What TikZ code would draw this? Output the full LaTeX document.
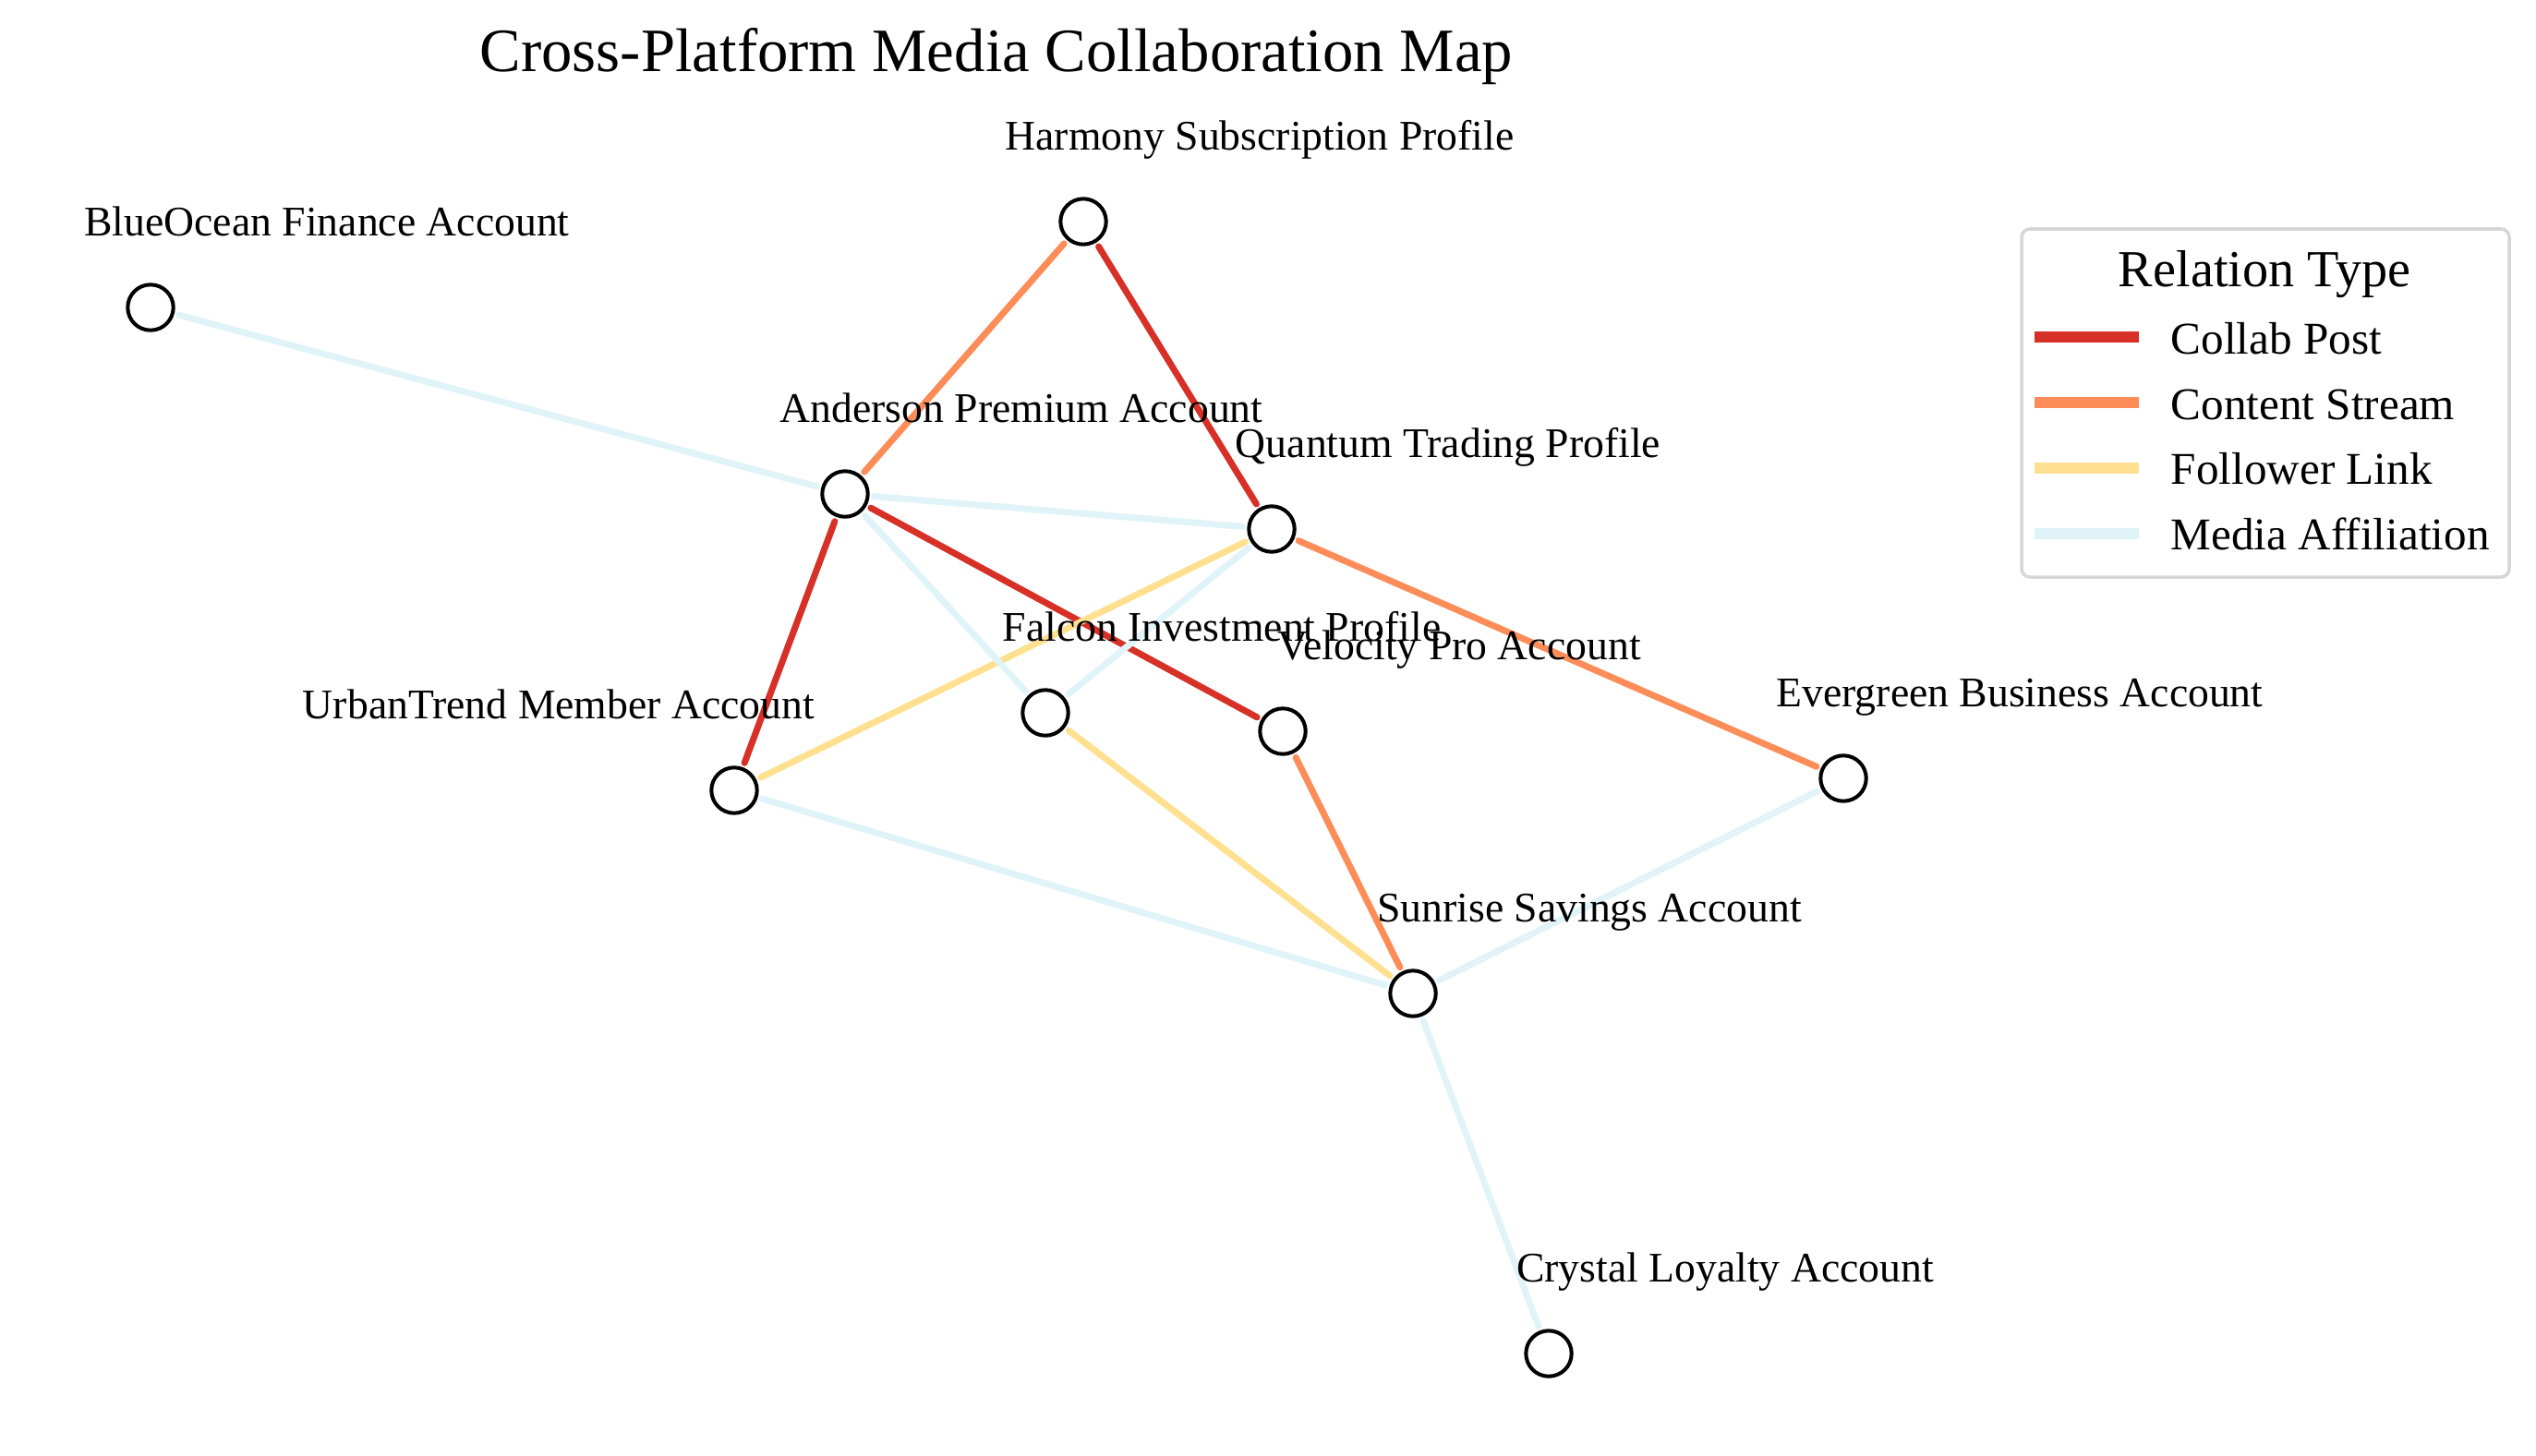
\documentclass[tikz,border=0pt]{standalone}
\usepackage{fontspec}
\setmainfont{Liberation Serif}
\usetikzlibrary{positioning}
\definecolor{collab}{HTML}{D73027}
\definecolor{stream}{HTML}{FC8D59}
\definecolor{follower}{HTML}{FEE090}
\definecolor{media}{HTML}{E0F3F8}
\definecolor{keyframe}{HTML}{D6D6D6}

\begin{document}
\begin{tikzpicture}
    [
      acct/.style = {circle, draw=black, line width=1.15pt, fill=white, minimum size=0.494cm, inner sep=0pt, outer sep=2pt},
      lbl/.style = {anchor=base, inner sep=0pt, font=\fontsize{13}{15}\selectfont},
      rel/.style = {line width=2pt, line cap=round},
      swatch/.style = {line width=3.56pt},
      keytext/.style = {anchor=base west, inner sep=0pt, font=\fontsize{14}{16}\selectfont},
    ]

    \useasboundingbox (0,0) rectangle (27.46,-15.76);

    \node[anchor=base, inner sep=0pt, font=\fontsize{19}{22}\selectfont] (title) at (10.79,-0.77) {Cross-Platform Media Collaboration Map};

    \node[acct] (h) at (11.73,-2.40) {};
    \node[acct] (b) at (1.63,-3.33) {};
    \node[acct] (a) at (9.15,-5.35) {};
    \node[acct] (q) at (13.77,-5.73) {};
    \node[acct] (f) at (11.32,-7.72) {};
    \node[acct] (v) at (13.89,-7.92) {};
    \node[acct] (u) at (7.95,-8.56) {};
    \node[acct] (e) at (19.96,-8.43) {};
    \node[acct] (s) at (15.30,-10.76) {};
    \node[acct] (c) at (16.77,-14.66) {};

    \draw[rel, collab] (h) -- (q);
    \draw[rel, collab] (a) -- (v);
    \draw[rel, collab] (a) -- (u);

    \draw[rel, stream] (h) -- (a);
    \draw[rel, stream] (q) -- (e);
    \draw[rel, stream] (v) -- (s);

    \draw[rel, follower] (q) -- (u);
    \draw[rel, follower] (f) -- (s);

    \draw[rel, media] (b) -- (a);
    \draw[rel, media] (a) -- (q);
    \draw[rel, media] (a) -- (f);
    \draw[rel, media] (q) -- (f);
    \draw[rel, media] (u) -- (s);
    \draw[rel, media] (e) -- (s);
    \draw[rel, media] (s) -- (c);

    \node[lbl] (hl) at ([shift={(1.91,0.78)}]h.center) {Harmony Subscription Profile};
    \node[lbl] (bl) at ([shift={(1.91,0.78)}]b.center) {BlueOcean Finance Account};
    \node[lbl] (al) at ([shift={(1.91,0.78)}]a.center) {Anderson Premium Account};
    \node[lbl] (ql) at ([shift={(1.91,0.78)}]q.center) {Quantum Trading Profile};
    \node[lbl] (fl) at ([shift={(1.91,0.78)}]f.center) {Falcon Investment Profile};
    \node[lbl] (vl) at ([shift={(1.91,0.78)}]v.center) {Velocity Pro Account};
    \node[lbl] (ul) at ([shift={(-1.90,0.78)}]u.center) {UrbanTrend Member Account};
    \node[lbl] (el) at ([shift={(1.91,0.78)}]e.center) {Evergreen Business Account};
    \node[lbl] (sl) at ([shift={(1.91,0.78)}]s.center) {Sunrise Savings Account};
    \node[lbl] (cl) at ([shift={(1.91,0.78)}]c.center) {Crystal Loyalty Account};

    \node[draw=keyframe, line width=1pt, rounded corners=0.09cm, fill=white, minimum width=5.28cm, minimum height=3.77cm, inner sep=0pt] (key) at (24.53,-4.365) {};
    \node[anchor=base, inner sep=0pt, font=\fontsize{16}{19}\selectfont] (keytitle) at (24.52,-3.10) {Relation Type};

    \draw[swatch, collab] (22.03,-3.65) -- (23.16,-3.65);
    \node[keytext] (k1) at (23.50,-3.83) {Collab Post};
    \draw[swatch, stream] (22.03,-4.36) -- (23.16,-4.36);
    \node[keytext] (k2) at (23.50,-4.54) {Content Stream};
    \draw[swatch, follower] (22.03,-5.07) -- (23.16,-5.07);
    \node[keytext] (k3) at (23.50,-5.24) {Follower Link};
    \draw[swatch, media] (22.03,-5.78) -- (23.16,-5.78);
    \node[keytext] (k4) at (23.50,-5.95) {Media Affiliation};

  \end{tikzpicture}
\end{document}
